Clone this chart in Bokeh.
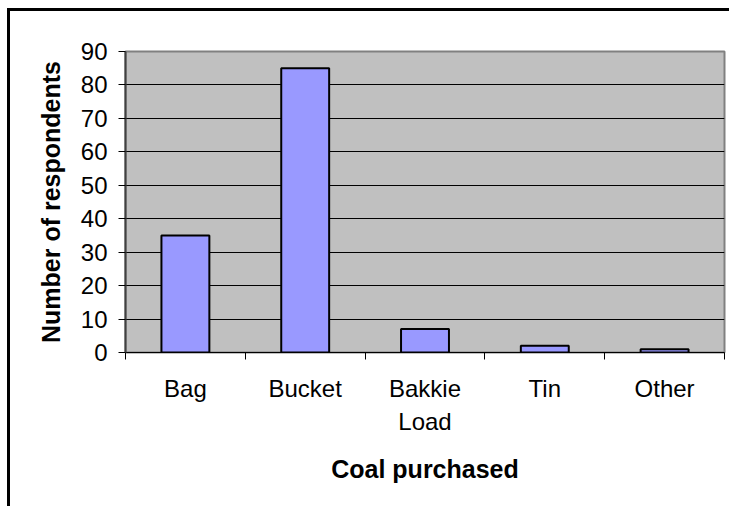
from bokeh.plotting import figure
from bokeh.models import Range1d, FixedTicker, ColumnDataSource
from bokeh.embed import file_html
from bokeh.resources import INLINE

# Survey results: how coal is bought
categories = ["Bag", "Bucket", "Bakkie Load", "Tin", "Other"]
respondents = [35, 85, 7, 2, 1]
tick_labels = ["Bag", "Bucket", "Bakkie\nLoad", "Tin", "Other"]
y_ticks = [0, 10, 20, 30, 40, 50, 60, 70, 80, 90]

FONT = "Liberation Sans"

# each category occupies one unit slot; bars sit in the middle of their slot
centers = [i + 0.5 for i in range(len(categories))]
bounds = list(range(len(categories) + 1))

src = ColumnDataSource(dict(x=centers, top=respondents, name=categories))

p = figure(
    width=722, height=498,
    x_range=Range1d(0, len(categories)), y_range=Range1d(0, 90),
    output_backend="svg", toolbar_location=None,
    min_border_left=115, min_border_right=8,
    min_border_top=40, min_border_bottom=157,
    background_fill_color="#C0C0C0",
    border_fill_color="white",
    outline_line_color="#808080", outline_line_width=2,
)
p.margin = (8, 0, 0, 7)
p.styles = {"border-left": "3px solid black", "border-top": "3px solid black"}

p.vbar(x="x", top="top", width=0.4, source=src,
       fill_color="#9999FF", line_color="black", line_width=2)

# grid
p.xgrid.visible = False
p.ygrid.ticker = FixedTicker(ticks=y_ticks[1:-1])
p.ygrid.grid_line_color = "black"
p.ygrid.grid_line_width = 1

# x axis: labels at slot centres, tick marks at slot boundaries
xa = p.xaxis[0]
xa.ticker = FixedTicker(ticks=centers, minor_ticks=bounds)
xa.major_label_overrides = {c: t for c, t in zip(centers, tick_labels)}
xa.major_tick_line_color = None
xa.major_tick_out = 0
xa.major_tick_in = 0
xa.minor_tick_line_color = "black"
xa.minor_tick_out = 7
xa.minor_tick_in = 0
xa.axis_line_color = "black"
xa.axis_line_width = 1
xa.major_label_text_font = FONT
xa.major_label_text_font_size = "24px"
xa.major_label_text_color = "black"
xa.major_label_text_line_height = 1.25
xa.major_label_standoff = 15
xa.axis_label = "Coal purchased"
xa.axis_label_text_font = FONT
xa.axis_label_text_font_size = "25px"
xa.axis_label_text_font_style = "bold"
xa.axis_label_text_color = "black"
xa.axis_label_standoff = 17

# y axis
ya = p.yaxis[0]
ya.ticker = FixedTicker(ticks=y_ticks)
ya.minor_tick_line_color = None
ya.major_tick_out = 7
ya.major_tick_in = 0
ya.major_tick_line_color = "black"
ya.axis_line_color = "#404040"
ya.axis_line_width = 2
ya.major_label_text_font = FONT
ya.major_label_text_font_size = "24px"
ya.major_label_text_color = "black"
ya.major_label_standoff = 11
ya.axis_label = "Number of respondents"
ya.axis_label_text_font = FONT
ya.axis_label_text_font_size = "25px"
ya.axis_label_text_font_style = "bold"
ya.axis_label_text_color = "black"
ya.axis_label_standoff = 13

open("out.html", "w").write(file_html(p, INLINE))
